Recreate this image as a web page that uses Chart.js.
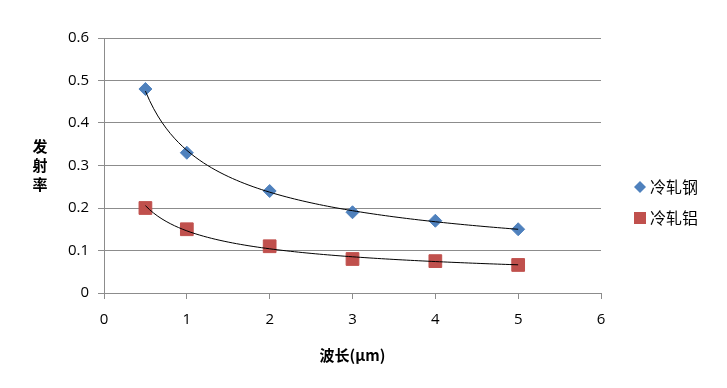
<!DOCTYPE html>
<html>
<head>
<meta charset="utf-8">
<script src="https://cdn.jsdelivr.net/npm/chart.js@4"></script>
<style>
  html, body { margin: 0; padding: 0; background: #fff; }
  #wrap { width: 727px; height: 388px; position: relative; }
</style>
</head>
<body>
<div id="wrap"><canvas id="emissChart"></canvas></div>
<script>
// wavelength (µm)
const wavelength = [0.5, 1, 2, 3, 4, 5];
const steel = [0.48, 0.33, 0.24, 0.19, 0.17, 0.15]; // 冷轧钢
const alum = [0.2, 0.15, 0.11, 0.08, 0.075, 0.066]; // 冷轧铝
const xTicks = [0, 1, 2, 3, 4, 5, 6];
const yTicks = [0, 0.1, 0.2, 0.3, 0.4, 0.5, 0.6];

const gridGray = '#8c8c8c';
const blue = '#4F81BD';
const red = '#C0504D';

// power trendline (like Excel) fitted from the data
function powerFit(xs, ys) {
  const n = xs.length;
  let sx = 0, sy = 0, sxx = 0, sxy = 0;
  for (let i = 0; i < n; i++) {
    const lx = Math.log(xs[i]), ly = Math.log(ys[i]);
    sx += lx; sy += ly; sxx += lx * lx; sxy += lx * ly;
  }
  const b = (n * sxy - sx * sy) / (n * sxx - sx * sx);
  const a = Math.exp((sy - b * sx) / n);
  const pts = [];
  const x0 = xs[0], x1 = xs[n - 1];
  for (let k = 0; k <= 90; k++) {
    const x = x0 + (x1 - x0) * k / 90;
    pts.push({ x: x, y: a * Math.pow(x, b) });
  }
  return pts;
}

const toPts = (ys) => wavelength.map((x, i) => ({ x: x, y: ys[i] }));

const names = ['冷轧钢', '冷轧铝'];

// stacked y title + legend drawn on the canvas
const extras = {
  id: 'extras',
  afterDraw(chart) {
    const c = chart.ctx;
    c.save();
    c.fillStyle = '#000';
    c.font = 'bold 15px "Noto Sans CJK SC"';
    c.textAlign = 'center';
    c.textBaseline = 'middle';
    const title = '发射率';
    const midY = (chart.chartArea.top + chart.chartArea.bottom) / 2;
    for (let i = 0; i < title.length; i++) {
      c.fillText(title[i], 40, midY - 19 + i * 19);
    }
    // legend
    c.textAlign = 'left';
    c.font = '16px "Noto Sans CJK SC"';
    const lx = chart.chartArea.right + 39;
    const ly = [187, 218];
    // diamond
    c.fillStyle = blue;
    c.beginPath();
    c.moveTo(lx, ly[0] - 6); c.lineTo(lx + 6, ly[0]); c.lineTo(lx, ly[0] + 6); c.lineTo(lx - 6, ly[0]);
    c.closePath(); c.fill();
    c.fillStyle = red;
    c.fillRect(lx - 6, ly[1] - 6, 12, 12);
    c.fillStyle = '#000';
    c.fillText(names[0], lx + 10, ly[0]);
    c.fillText(names[1], lx + 10, ly[1]);
    c.restore();
  }
};

const ctx = document.getElementById('emissChart');

new Chart(ctx, {
  type: 'scatter',
  data: {
    datasets: [
      {
        label: names[0],
        data: toPts(steel),
        backgroundColor: blue,
        borderColor: blue,
        pointStyle: 'rectRot',
        pointRadius: 6.5,
        pointHoverRadius: 6.5,
        order: 1
      },
      {
        label: names[1],
        data: toPts(alum),
        backgroundColor: red,
        borderColor: red,
        pointStyle: 'rect',
        pointRadius: 9,
        pointHoverRadius: 9,
        order: 1
      },
      {
        label: 'trend1',
        data: powerFit(wavelength, steel),
        showLine: true,
        borderColor: '#000',
        borderWidth: 1,
        pointRadius: 0,
        order: 0
      },
      {
        label: 'trend2',
        data: powerFit(wavelength, alum),
        showLine: true,
        borderColor: '#000',
        borderWidth: 1,
        pointRadius: 0,
        order: 0
      }
    ]
  },
  options: {
    responsive: true,
    maintainAspectRatio: false,
    animation: false,
    layout: { padding: { top: 38, right: 126, left: 0, bottom: 0 } },
    plugins: {
      legend: { display: false },
      tooltip: { enabled: false }
    },
    scales: {
      x: {
        type: 'linear',
        min: 0,
        max: 6,
        afterFit: (s) => { s.height = 95; },
        afterBuildTicks: (s) => { s.ticks = xTicks.map(v => ({ value: v })); },
        grid: { drawOnChartArea: false, color: gridGray, tickLength: 6 },
        border: { color: gridGray },
        ticks: { color: '#000', font: { family: 'Open Sans', size: 15 }, padding: 12 },
        title: {
          display: true,
          text: '波长(µm)',
          color: '#000',
          font: { family: '"Noto Sans CJK SC"', size: 15, weight: 'bold' },
          padding: { top: 0, bottom: 24 }
        }
      },
      y: {
        min: 0,
        max: 0.6,
        afterFit: (s) => { s.width = 104; },
        afterBuildTicks: (s) => { s.ticks = yTicks.map(v => ({ value: v })); },
        grid: { color: gridGray, tickLength: 6 },
        border: { color: gridGray },
        ticks: { color: '#000', font: { family: 'Open Sans', size: 15 }, padding: 9 }
      }
    }
  },
  plugins: [extras]
});
</script>
</body>
</html>
